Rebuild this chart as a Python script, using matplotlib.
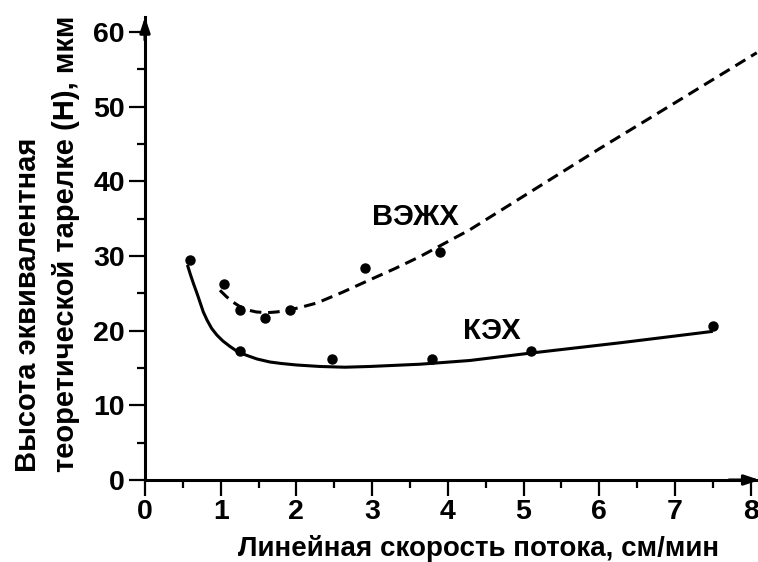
import matplotlib
matplotlib.use("Agg")
import matplotlib.pyplot as plt
from matplotlib.ticker import MultipleLocator

plt.rcParams['font.family'] = ['Liberation Sans', 'DejaVu Sans']
plt.rcParams['font.weight'] = 'bold'

# measured points
keh_x = [0.60, 1.26, 2.47, 3.79, 5.10, 7.50]
keh_y = [29.5, 17.3, 16.2, 16.2, 17.3, 20.6]
hplc_x = [1.04, 1.25, 1.59, 1.92, 2.91, 3.89]
hplc_y = [26.2, 22.8, 21.7, 22.8, 28.4, 30.5]

# fitted curves
keh_curve_x = [0.56, 0.60, 0.64, 0.69, 0.73, 0.77, 0.82, 0.88, 0.95, 1.03,
               1.12, 1.22, 1.34, 1.48, 1.65, 1.80, 2.00, 2.31, 2.64, 2.97,
               3.63, 4.29, 5.10, 6.30, 7.50]
keh_curve_y = [28.8, 27.5, 26.3, 24.9, 23.7, 22.5, 21.4, 20.3, 19.4, 18.6,
               17.9, 17.2, 16.7, 16.2, 15.8, 15.6, 15.4, 15.2, 15.1, 15.2,
               15.5, 16.0, 17.0, 18.4, 19.9]
hplc_curve_x = [0.99, 1.07, 1.15, 1.24, 1.34, 1.47, 1.61, 1.74, 1.87, 2.05,
                2.27, 2.60, 2.97, 3.30, 3.63, 4.29, 5.00, 6.01, 7.00, 8.08]
hplc_curve_y = [25.4, 24.6, 23.9, 23.3, 22.8, 22.5, 22.4, 22.5, 22.7, 23.1,
                23.7, 25.1, 26.8, 28.3, 29.9, 33.5, 38.0, 44.4, 50.5, 57.2]

fig = plt.figure(figsize=(7.58, 5.62), dpi=100)
ax = fig.add_axes([0.1913, 0.1459, 0.811, 0.824])

lw = 2.2
ax.plot(keh_curve_x, keh_curve_y, color='black', lw=lw, solid_capstyle='butt',
        solid_joinstyle='round')
ax.plot(hplc_curve_x, hplc_curve_y, color='black', lw=lw, dashes=(3.8, 2.2),
        dash_capstyle='butt', clip_on=False)
ax.plot(keh_x, keh_y, 'o', color='black', ms=6.5)
ax.plot(hplc_x, hplc_y, 'o', color='black', ms=6.5)

ax.text(3.57, 35.2, 'ВЭЖХ', fontsize=21, fontweight='bold', ha='center', va='center')
ax.text(4.58, 19.9, 'КЭХ', fontsize=21, fontweight='bold', ha='center', va='center')

ax.set_xlim(0, 8.12)
ax.set_ylim(0, 62)
ax.xaxis.set_minor_locator(MultipleLocator(0.5))
ax.yaxis.set_minor_locator(MultipleLocator(5))
ax.set_xticks([0, 1, 2, 3, 4, 5, 6, 7, 8])
ax.set_yticks([0, 10, 20, 30, 40, 50, 60])

for s in ['top', 'right']:
    ax.spines[s].set_visible(False)
for s in ['left', 'bottom']:
    ax.spines[s].set_linewidth(lw)

ax.tick_params(which='major', direction='out', length=11.5, width=1.6,
               labelsize=20.5)
ax.tick_params(axis='x', which='major', pad=2)
ax.tick_params(axis='y', which='major', pad=3)
ax.tick_params(which='minor', direction='out', length=6, width=1.6)
for lab in ax.get_xticklabels() + ax.get_yticklabels():
    lab.set_fontweight('bold')

# arrow heads on the axes
ax.annotate('', xy=(0, 1.0), xycoords='axes fraction', xytext=(0, 0.95),
            arrowprops=dict(arrowstyle='-|>,head_length=0.9,head_width=0.3',
                            color='black', lw=lw, shrinkA=0, shrinkB=0))
ax.annotate('', xy=(1.0, 0), xycoords='axes fraction', xytext=(0.95, 0),
            arrowprops=dict(arrowstyle='-|>,head_length=0.9,head_width=0.3',
                            color='black', lw=lw, shrinkA=0, shrinkB=0))

fig.text(479 / 758, 1 - 556.2 / 562, 'Линейная скорость потока, см/мин',
         ha='center', va='baseline', fontsize=20, fontweight='bold')

fig.text(28 / 758, 1 - 472 / 562, 'Высота эквивалентная', rotation=90,
         rotation_mode='anchor', ha='left', va='center', fontsize=21,
         fontweight='bold')
fig.text(66 / 758, 1 - 472 / 562, 'теоретической тарелке (H), мкм', rotation=90,
         rotation_mode='anchor', ha='left', va='center', fontsize=21,
         fontweight='bold')

fig.savefig('out.png', dpi=100)
